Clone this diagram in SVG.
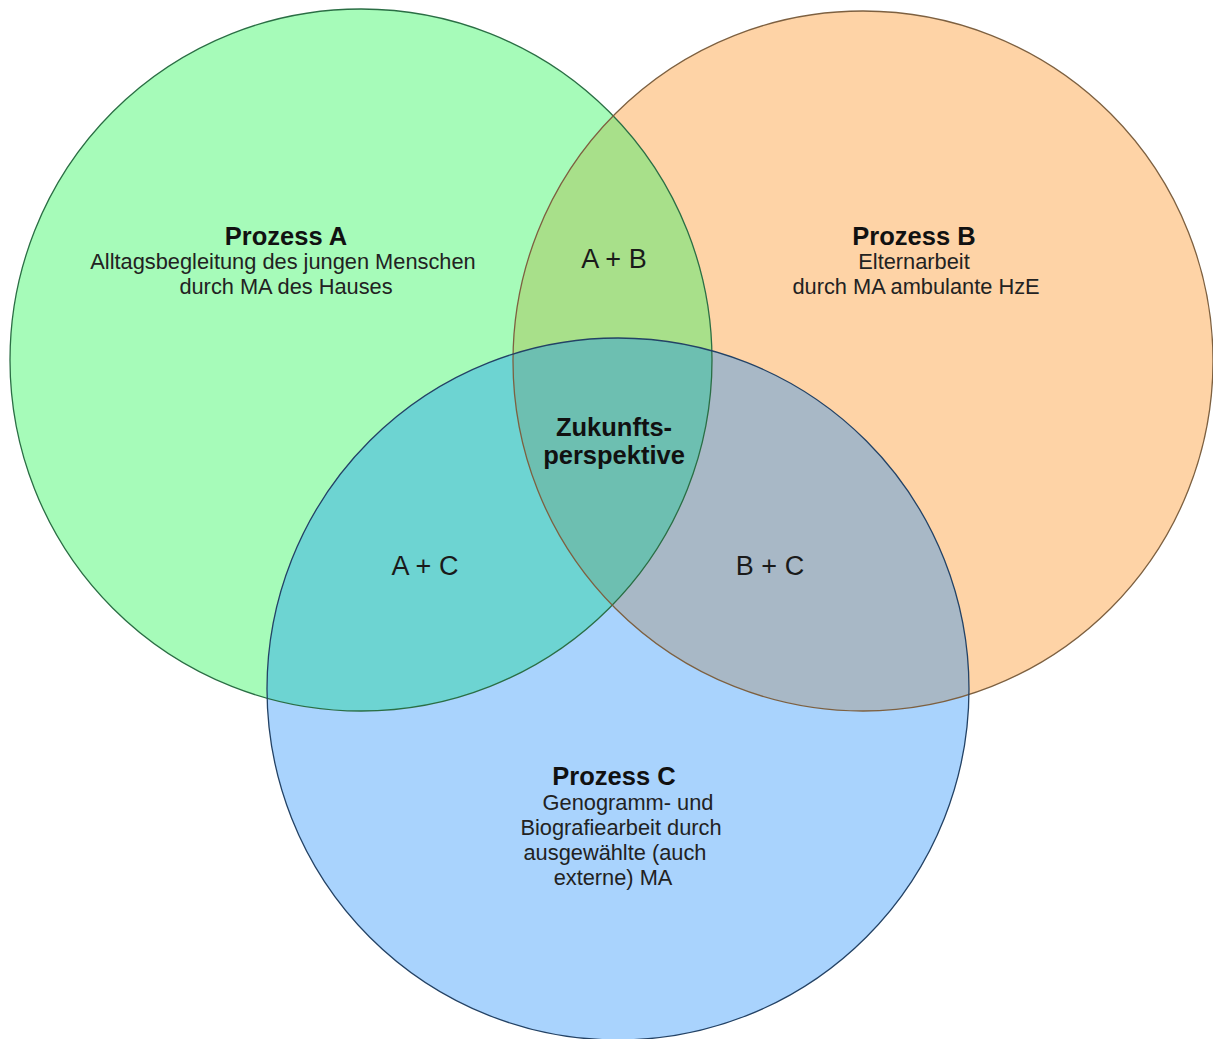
<svg xmlns="http://www.w3.org/2000/svg" xmlns:xlink="http://www.w3.org/1999/xlink" width="1213" height="1039" viewBox="0 0 1213 1039">
  <style>
    .title { font-family: "Liberation Sans", Arial, sans-serif; font-weight: bold; font-size: 25.5px; fill: #111; text-anchor: middle; }
    .body { font-family: "Liberation Sans", Arial, sans-serif; font-size: 21.8px; fill: #222; text-anchor: middle; }
    .pair { font-family: "Liberation Sans", Arial, sans-serif; font-size: 27px; fill: #1a1a1a; text-anchor: middle; }
    .rim { fill: none; stroke-width: 1.3; }
  </style>
  <defs>
    <circle id="circA" cx="361" cy="360" r="351"/>
    <circle id="circB" cx="863" cy="361" r="350"/>
    <circle id="circC" cx="618" cy="689" r="351"/>
    <clipPath id="clipA"><use xlink:href="#circA"/></clipPath>
    <clipPath id="clipB"><use xlink:href="#circB"/></clipPath>
  </defs>

  <rect width="1213" height="1039" fill="#ffffff"/>

  <!-- Process A -->
  <g id="node-a">
    <use xlink:href="#circA" fill="#a6fbb9"/>
    <text class="title" x="286" y="245">Prozess A</text>
    <text class="body" x="283" y="269">Alltagsbegleitung des jungen Menschen</text>
    <text class="body" x="286" y="294">durch MA des Hauses</text>
  </g>

  <!-- Process B -->
  <g id="node-b">
    <use xlink:href="#circB" fill="#fed3a6"/>
    <text class="title" x="914" y="245">Prozess B</text>
    <text class="body" x="914" y="269">Elternarbeit</text>
    <text class="body" x="916" y="294">durch MA ambulante HzE</text>
  </g>

  <!-- Process C -->
  <g id="node-c">
    <use xlink:href="#circC" fill="#a9d3fd"/>
    <text class="title" x="614" y="785">Prozess C</text>
    <text class="body" x="628" y="810">Genogramm- und</text>
    <text class="body" x="621" y="835">Biografiearbeit durch</text>
    <text class="body" x="615" y="860">ausgewählte (auch</text>
    <text class="body" x="613" y="885">externe) MA</text>
  </g>

  <!-- Overlap areas -->
  <g id="overlaps">
    <use xlink:href="#circB" fill="#a8e08a" clip-path="url(#clipA)"/>
    <use xlink:href="#circC" fill="#6dd4d2" clip-path="url(#clipA)"/>
    <use xlink:href="#circC" fill="#a8b8c6" clip-path="url(#clipB)"/>
    <g clip-path="url(#clipB)">
      <use xlink:href="#circC" fill="#6dbfb1" clip-path="url(#clipA)"/>
    </g>
  </g>

  <!-- Circle outlines -->
  <g id="outlines">
    <use xlink:href="#circA" class="rim" stroke="#2a6e44"/>
    <use xlink:href="#circB" class="rim" stroke="#7d6040"/>
    <use xlink:href="#circC" class="rim" stroke="#234265"/>
  </g>

  <!-- Overlap labels -->
  <g id="node-ab"><text class="pair" x="614" y="268">A + B</text></g>
  <g id="node-ac"><text class="pair" x="425" y="575">A + C</text></g>
  <g id="node-bc"><text class="pair" x="770" y="575">B + C</text></g>
  <g id="node-abc">
    <text class="title" x="614" y="436">Zukunfts-</text>
    <text class="title" x="614" y="464">perspektive</text>
  </g>

  <g id="connectors"/>
</svg>
